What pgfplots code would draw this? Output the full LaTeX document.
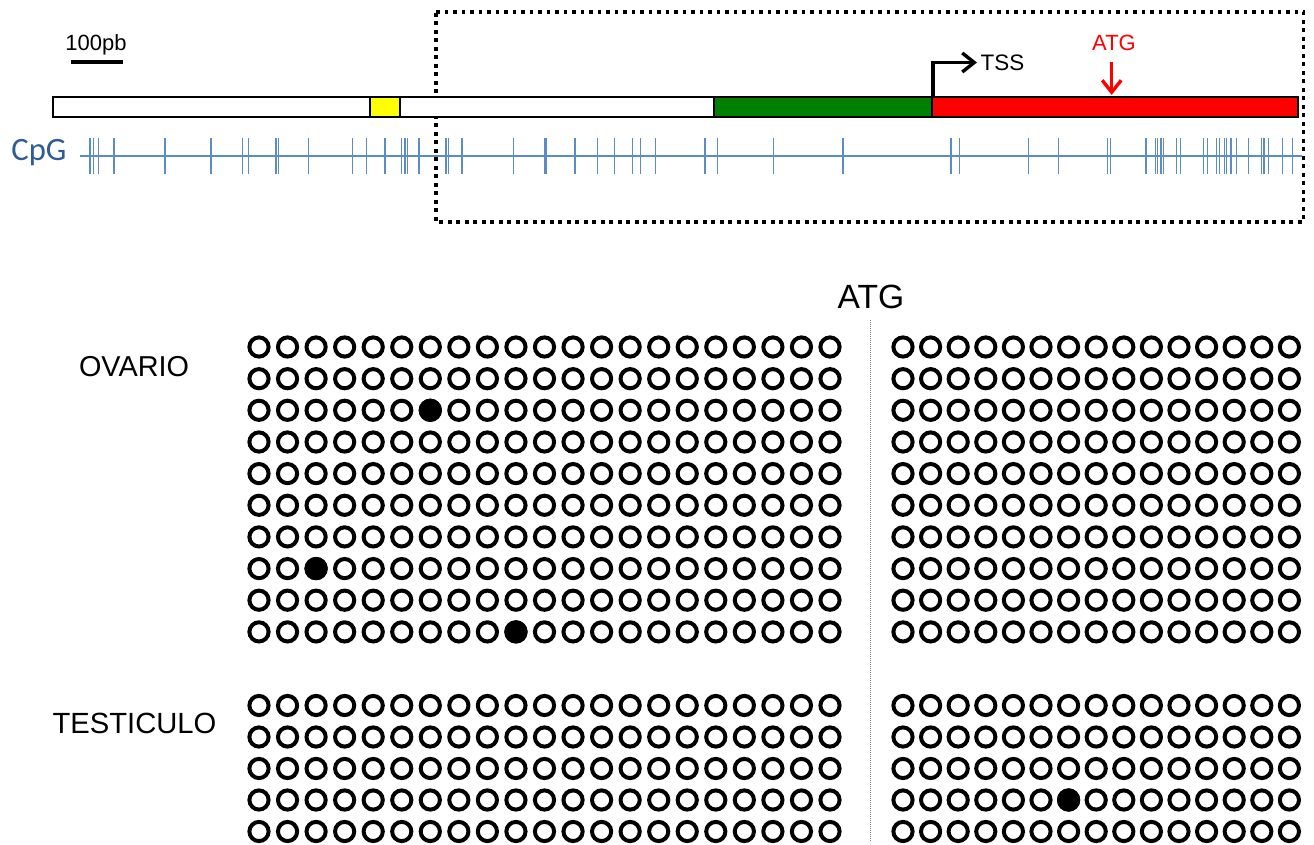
\documentclass[border=0pt]{standalone}
\usepackage{pgfplots}
\pgfplotsset{compat=1.18}
\usepackage{pgfplotstable}
\usetikzlibrary{arrows.meta}
\usepackage{fontspec}
\setmainfont{Liberation Sans}
\newfontfamily\calibri{Carlito}
\definecolor{cpgtick}{HTML}{5B8BC9}
\definecolor{cpgtext}{HTML}{2E5C94}
\definecolor{genegreen}{HTML}{008000}
\definecolor{genered}{HTML}{FF0000}
\definecolor{geneyellow}{HTML}{FFFF00}

% CpG site positions (pixels along the map)
\pgfplotstableread{
x y
90 156.2
93.3 156.2
98.3 156.2
114 156.2
165 156.2
211 156.2
242.7 156.2
248.3 156.2
276 156.2
278.3 156.2
308.3 156.2
352.7 156.2
366.7 156.2
385 156.2
401.7 156.2
405 156.2
407.3 156.2
419 156.2
446 156.2
448.3 156.2
462 156.2
513.7 156.2
545 156.2
546.7 156.2
575 156.2
597.7 156.2
614.3 156.2
632.7 156.2
640.7 156.2
655.7 156.2
705 156.2
717.7 156.2
773.7 156.2
843 156.2
951 156.2
959.7 156.2
1028.7 156.2
1058.7 156.2
1107.3 156.2
1110.7 156.2
1146 156.2
1155.7 156.2
1157.7 156.2
1161 156.2
1163.3 156.2
1176.7 156.2
1180.7 156.2
1203.3 156.2
1207.3 156.2
1216.7 156.2
1219.3 156.2
1224.3 156.2
1226.7 156.2
1231 156.2
1236.7 156.2
1248.3 156.2
1261.7 156.2
1264 156.2
1268.7 156.2
1282.3 156.2
1292.3 156.2
}\cpgsites

% column positions of the CpGs analysed before the ATG
\pgfplotstableread{
k x
1 259
2 287.55
3 316.1
4 344.65
5 373.2
6 401.75
7 430.3
8 458.85
9 487.4
10 515.95
11 544.5
12 573.05
13 601.6
14 630.15
15 658.7
16 687.25
17 715.8
18 744.35
19 772.9
20 801.45
21 830
}\leftcols

% column positions of the CpGs analysed after the ATG
\pgfplotstableread{
k x
1 903
2 930.6
3 958.2
4 985.8
5 1013.4
6 1041
7 1068.6
8 1096.2
9 1123.8
10 1151.4
11 1179
12 1206.6
13 1234.2
14 1261.8
15 1289.4
}\rightcols

\begin{document}
\begin{tikzpicture}
\begin{axis}[
  scale only axis, width=657pt, height=422.5pt,
  xmin=0, xmax=1314, ymin=0, ymax=845, y dir=reverse,
  hide axis, clip=false,
  open/.style={only marks, mark=o, mark size=4.8pt,
    mark options={draw=black, line width=2pt}},
  full/.style={only marks, mark=*, mark size=4.8pt,
    mark options={draw=black, fill=black, line width=2pt}},
]
% background (sets the picture size)
\addplot[draw=none, fill=white] coordinates {(0,0) (1314,0) (1314,845) (0,845)} -- cycle;

% scale bar
\addplot[black, line width=2pt] coordinates {(71,61.7) (122.7,61.7)};
\node[anchor=base, font=\fontsize{11}{13}\selectfont] at (axis cs:96,50.5) {100pb};

% dotted box
\addplot[black, line width=1.9pt, line cap=butt, dash pattern=on 1.9pt off 2.35pt]
  coordinates {(436,12) (1303.5,12) (1303.5,222) (436,222) (436,12)};

% gene map
\addplot[draw=black, fill=white, line width=1pt] coordinates {(53,97.5) (370,97.5) (370,117.5) (53,117.5)} -- cycle;
\addplot[draw=black, fill=geneyellow, line width=1pt] coordinates {(370,97.5) (400,97.5) (400,117.5) (370,117.5)} -- cycle;
\addplot[draw=black, fill=white, line width=1pt] coordinates {(400,97.5) (713.5,97.5) (713.5,117.5) (400,117.5)} -- cycle;
\addplot[draw=black, fill=genegreen, line width=1pt] coordinates {(713.5,97.5) (931.5,97.5) (931.5,117.5) (713.5,117.5)} -- cycle;
\addplot[draw=black, fill=genered, line width=1pt] coordinates {(931.5,97.5) (1297.5,97.5) (1297.5,117.5) (931.5,117.5)} -- cycle;

% TSS arrow
\addplot[black, line width=1.7pt, -{Straight Barb[length=6pt,width=9.5pt]}]
  coordinates {(933,97.5) (933,62.5) (977,62.5)};
\node[anchor=base, font=\fontsize{11.2}{13}\selectfont] at (axis cs:1002.5,70.5) {TSS};

% ATG arrow (red)
\addplot[genered, line width=1.7pt, -{Straight Barb[length=6pt,width=9.5pt]}]
  coordinates {(1111.7,62) (1111.7,95)};
\node[anchor=base, text=genered, font=\fontsize{11}{13}\selectfont] at (axis cs:1114,50.5) {ATG};

% CpG track
\node[anchor=base, text=cpgtext, font=\calibri\fontsize{16.3}{18}\selectfont] at (axis cs:39,160.5) {CpG};
\addplot[cpgtick, line width=1pt] coordinates {(80,156.5) (1302,156.5)};
\addplot[only marks, mark=|, mark size=9.1pt, mark options={draw=cpgtick, line width=0.75pt}]
  table[x=x, y=y] {\cpgsites};

% ATG divider
\node[anchor=base, font=\fontsize{16.8}{19}\selectfont] at (axis cs:871,308.5) {ATG};
\addplot[gray, line width=0.5pt, dash pattern=on 0.5pt off 0.5pt] coordinates {(870,320) (870,842)};

% sample labels
\node[anchor=base, font=\fontsize{14.4}{17}\selectfont] at (axis cs:134,376.5) {OVARIO};
\node[anchor=base, font=\fontsize{14.6}{17}\selectfont] at (axis cs:134.5,733.5) {TESTICULO};

% OVARIO, before ATG
\addplot[open] table[x=x, y expr=347] {\leftcols};
\addplot[open] table[x=x, y expr=378.7] {\leftcols};
\addplot[open] table[x=x, y expr=410.3] {\leftcols};
\addplot[open] table[x=x, y expr=442] {\leftcols};
\addplot[open] table[x=x, y expr=473.6] {\leftcols};
\addplot[open] table[x=x, y expr=505.3] {\leftcols};
\addplot[open] table[x=x, y expr=536.9] {\leftcols};
\addplot[open] table[x=x, y expr=568.6] {\leftcols};
\addplot[open] table[x=x, y expr=600.2] {\leftcols};
\addplot[open] table[x=x, y expr=631.9] {\leftcols};
% OVARIO, after ATG
\addplot[open] table[x=x, y expr=347] {\rightcols};
\addplot[open] table[x=x, y expr=378.7] {\rightcols};
\addplot[open] table[x=x, y expr=410.3] {\rightcols};
\addplot[open] table[x=x, y expr=442] {\rightcols};
\addplot[open] table[x=x, y expr=473.6] {\rightcols};
\addplot[open] table[x=x, y expr=505.3] {\rightcols};
\addplot[open] table[x=x, y expr=536.9] {\rightcols};
\addplot[open] table[x=x, y expr=568.6] {\rightcols};
\addplot[open] table[x=x, y expr=600.2] {\rightcols};
\addplot[open] table[x=x, y expr=631.9] {\rightcols};
% TESTICULO, before ATG
\addplot[open] table[x=x, y expr=705.5] {\leftcols};
\addplot[open] table[x=x, y expr=737] {\leftcols};
\addplot[open] table[x=x, y expr=768.5] {\leftcols};
\addplot[open] table[x=x, y expr=800] {\leftcols};
\addplot[open] table[x=x, y expr=831.5] {\leftcols};
% TESTICULO, after ATG
\addplot[open] table[x=x, y expr=705.5] {\rightcols};
\addplot[open] table[x=x, y expr=737] {\rightcols};
\addplot[open] table[x=x, y expr=768.5] {\rightcols};
\addplot[open] table[x=x, y expr=800] {\rightcols};
\addplot[open] table[x=x, y expr=831.5] {\rightcols};

% methylated CpGs
\addplot[full] coordinates {(430.3,410.3) (316.1,568.6) (515.95,631.9) (1068.6,800)};
\end{axis}
\end{tikzpicture}
\end{document}
